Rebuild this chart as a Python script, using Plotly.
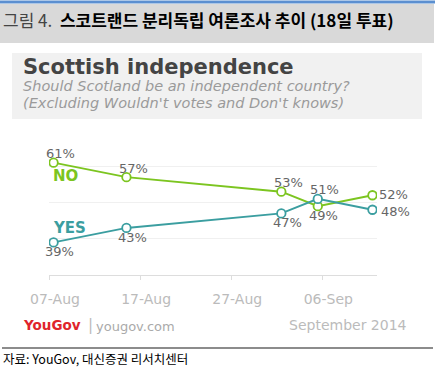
import plotly.graph_objects as go

# ---- data ----
poll_dates = ["2014-08-07 12:00", "2014-08-15 12:00", "2014-09-01 12:00",
              "2014-09-05 12:00", "2014-09-11 12:00"]
no_values = [61, 57, 53, 49, 52]
yes_values = [39, 43, 47, 51, 48]
tick_dates = ["2014-08-07", "2014-08-17", "2014-08-27", "2014-09-06"]
tick_labels = ["07-Aug", "17-Aug", "27-Aug", "06-Sep"]
no_label_pos = ["top", "top", "top", "bottom", "right_hi"]
yes_label_pos = ["bottom", "bottom", "bottom", "top", "right_lo"]

W, H = 437, 369
L, R, T, B = 49, 377, 130, 275  # plot area in pixels

def xp(px):
    return (px - L) / (R - L)

def yp(py):
    return (B - py) / (B - T)

GREEN = "#7cc520"
TEAL = "#3b9ea0"
LABEL_FONT = "DejaVu Sans"

fig = go.Figure()
for name, vals, col in [("NO", no_values, GREEN), ("YES", yes_values, TEAL)]:
    fig.add_trace(go.Scatter(
        x=poll_dates, y=vals, mode="lines+markers", name=name,
        line=dict(color=col, width=2),
        marker=dict(size=8.5, color="white", line=dict(color=col, width=1.8)),
        showlegend=False, hoverinfo="skip",
    ))

annotations = []
for vals, positions in [(no_values, no_label_pos), (yes_values, yes_label_pos)]:
    for d, v, pos in zip(poll_dates, vals, positions):
        a = dict(x=d, y=v, xref="x", yref="y", text=f"{v}%", showarrow=False,
                 borderpad=0,
                 font=dict(family=LABEL_FONT, size=13, color="#666666"))
        if pos == "top":
            a.update(xanchor="center", yanchor="middle", xshift=7, yshift=9)
        elif pos == "bottom":
            a.update(xanchor="center", yanchor="middle", xshift=6, yshift=-9.5)
        elif pos == "right_hi":
            a.update(xanchor="left", yanchor="middle", xshift=6, yshift=1)
        else:
            a.update(xanchor="left", yanchor="middle", xshift=8, yshift=-1.5)
        annotations.append(a)

def txt(text, px, py, size, color, family=LABEL_FONT, xanchor="left"):
    return dict(x=xp(px), y=yp(py), xref="paper", yref="paper", text=text,
                showarrow=False, xanchor=xanchor, yanchor="middle", borderpad=0,
                font=dict(family=family, size=size, color=color))

annotations += [
    txt("<b>NO</b>", 52, 176, 15, GREEN),
    txt("<b>YES</b>", 52, 228, 15, TEAL),
    txt("<span style='color:#444444'>그림 4.</span>  <b>스코트랜드 분리독립 여론조사 추이 (18일 투표)</b>",
        2, 19, 17, "#000000", family="Noto Sans CJK KR"),
    txt("<b>Scottish independence</b>", 22, 67, 21, "#444444"),
    txt("<i>Should Scotland be an independent country?</i>", 22, 85.5, 14.5, "#9a9a9a"),
    txt("<i>(Excluding Wouldn't votes and Don't knows)</i>", 22, 102.5, 14.5, "#9a9a9a"),
    txt("<b>YouGov</b>", 22, 325, 13.5, "#e0242b"),
    txt("|", 87, 325, 15, "#bbbbbb"),
    txt("yougov.com", 95, 326, 13, "#aaaaaa"),
    txt("September 2014", 408, 325, 14, "#bbbbbb", xanchor="right"),
    txt("자료: YouGov, 대신증권 리서치센터", 2, 358, 12.5, "#000000",
        family="Noto Sans CJK KR"),
]

shapes = [
    dict(type="rect", xref="paper", yref="paper", x0=xp(0), x1=xp(435),
         y0=yp(3.5), y1=yp(0.5), fillcolor="#5b8fd0", line=dict(width=0), layer="below"),
    dict(type="rect", xref="paper", yref="paper", x0=xp(0), x1=xp(434),
         y0=yp(43), y1=yp(4), fillcolor="#d9d9d9", line=dict(width=0), layer="below"),
    dict(type="rect", xref="paper", yref="paper", x0=xp(12), x1=xp(422),
         y0=yp(119), y1=yp(53), fillcolor="#f1f1f1", line=dict(width=0), layer="below"),
    dict(type="rect", xref="paper", yref="paper", x0=xp(2), x1=xp(433),
         y0=yp(349), y1=yp(347), fillcolor="#8c8c8c", line=dict(width=0), layer="below"),
]

fig.update_layout(
    width=W, height=H,
    margin=dict(l=L, r=W - R, t=T, b=H - B, pad=0),
    paper_bgcolor="white", plot_bgcolor="white",
    annotations=annotations, shapes=shapes,
    xaxis=dict(
        type="date", range=["2014-08-07", "2014-09-12"],
        tickvals=tick_dates, ticktext=tick_labels,
        showgrid=False, zeroline=False,
        showline=True, linecolor="#dddddd", linewidth=1,
        ticks="outside", ticklen=4, tickcolor="#dddddd", tickwidth=1,
        tickfont=dict(family=LABEL_FONT, size=14, color="#bbbbbb"),
        ticklabelshift=6, ticklabelstandoff=7,
        fixedrange=True,
    ),
    yaxis=dict(
        range=[30, 70], tickvals=[40, 50, 60, 70],
        showticklabels=False, ticks="",
        showgrid=True, gridcolor="#f0f0f0", gridwidth=1,
        zeroline=False, showline=False, fixedrange=True,
    ),
)

fig.write_html("out.html", config={"displayModeBar": False},
               post_script="document.body.style.margin='0';document.body.style.overflow='hidden';")
